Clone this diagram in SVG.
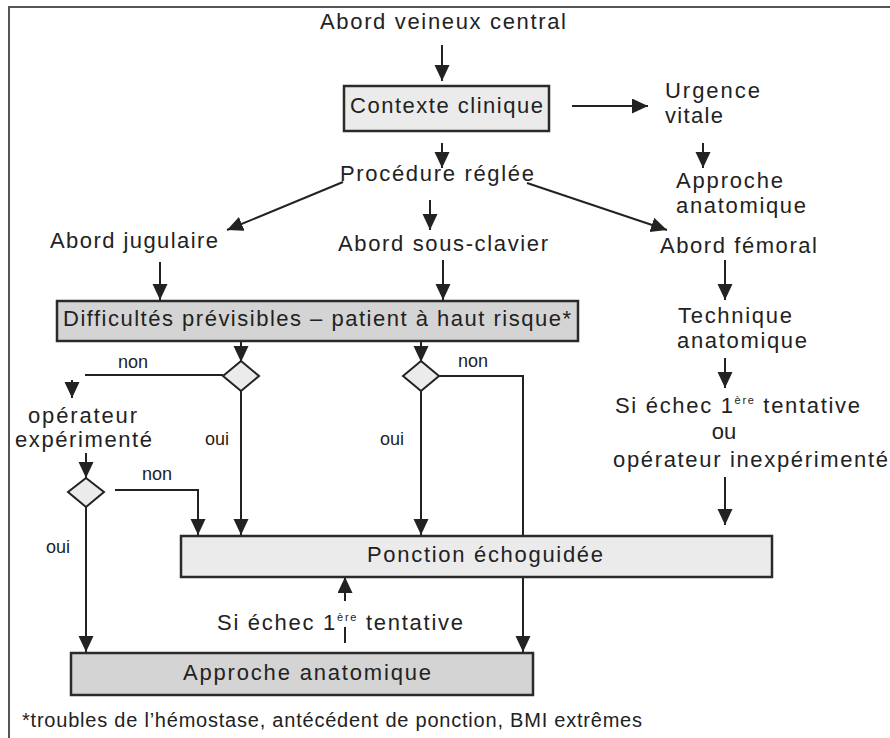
<svg xmlns="http://www.w3.org/2000/svg" width="890" height="738" viewBox="0 0 890 738">
  <defs>
    <marker id="arrow" markerUnits="userSpaceOnUse" markerWidth="16" markerHeight="16" refX="16" refY="7.5" orient="auto">
      <path d="M0,0 L16,7.5 L0,15 z" fill="#222"/>
    </marker>
    <style>
      text { font-family: "Liberation Sans", Arial, sans-serif; font-size: 22px; fill: #222; }
      .small { font-size: 18px; }
      .foot { font-size: 20px; }
      .sup { font-size: 11px; }
      .box { stroke: #2a2a2a; stroke-width: 2.5; }
      .light { fill: #ebebeb; }
      .dark { fill: #d4d4d4; }
      .diamond { fill: #ebebeb; stroke: #222; stroke-width: 2; }
      .conn line, .conn polyline { stroke: #222; stroke-width: 2; fill: none; }
      .arr { marker-end: url(#arrow); }
      .frame { fill: none; stroke: #555; stroke-width: 2; }
    </style>
  </defs>

  <rect width="890" height="738" fill="#fff"/>
  <path class="frame" d="M9,738 V7 H890"/>

  <!-- connectors -->
  <g id="connectors" class="conn">
    <line class="arr" x1="442" y1="45" x2="442" y2="81"/>
    <line class="arr" x1="572" y1="106" x2="648" y2="106"/>
    <line class="arr" x1="442" y1="143" x2="442" y2="168"/>
    <line class="arr" x1="703" y1="143" x2="703" y2="168"/>
    <line class="arr" x1="343" y1="182" x2="227" y2="230"/>
    <line class="arr" x1="430" y1="200" x2="430" y2="230"/>
    <line class="arr" x1="527" y1="183" x2="667" y2="230"/>
    <line class="arr" x1="160" y1="262" x2="160" y2="300"/>
    <line class="arr" x1="443" y1="260" x2="443" y2="300"/>
    <line class="arr" x1="725" y1="260" x2="725" y2="300"/>
    <line class="arr" x1="725" y1="358" x2="725" y2="388"/>
    <line class="arr" x1="725" y1="477" x2="725" y2="525"/>
    <line class="arr" x1="241" y1="341" x2="241" y2="362"/>
    <line class="arr" x1="421" y1="341" x2="421" y2="362"/>
    <line x1="223" y1="375" x2="85" y2="375"/>
    <line class="arr" x1="72" y1="380" x2="72" y2="398"/>
    <line class="arr" x1="86" y1="453" x2="86" y2="478"/>
    <polyline class="arr" points="115,490 198,490 198,535"/>
    <line class="arr" x1="241" y1="390" x2="241" y2="535"/>
    <line class="arr" x1="421" y1="390" x2="421" y2="535"/>
    <polyline class="arr" points="439,376 523,376 523,652"/>
    <line class="arr" x1="86" y1="507" x2="86" y2="652"/>
    <line class="arr" x1="345" y1="601" x2="345" y2="577"/>
    <line x1="345" y1="627" x2="345" y2="643"/>
  </g>

  <g id="title">
    <text x="320" y="29" textLength="246">Abord veineux central</text>
  </g>

  <g id="contexte">
    <rect class="box light" x="344" y="86" width="205" height="45"/>
    <text x="350" y="113" textLength="193">Contexte clinique</text>
  </g>

  <g id="urgence">
    <text x="665" y="98" textLength="95">Urgence</text>
    <text x="665" y="123" textLength="58">vitale</text>
  </g>

  <g id="approche-urgence">
    <text x="676" y="188" textLength="107">Approche</text>
    <text x="676" y="213" textLength="130">anatomique</text>
  </g>

  <g id="procedure">
    <text x="340" y="181" textLength="194">Procédure réglée</text>
  </g>

  <g id="jugulaire">
    <text x="50" y="248" textLength="168">Abord jugulaire</text>
  </g>

  <g id="sous-clavier">
    <text x="338" y="251" textLength="210">Abord sous-clavier</text>
  </g>

  <g id="femoral">
    <text x="660" y="253" textLength="157">Abord fémoral</text>
  </g>

  <g id="difficultes">
    <rect class="box dark" x="57" y="301" width="521" height="40"/>
    <text x="63" y="326" textLength="508">Difficultés prévisibles – patient à haut risque*</text>
  </g>

  <g id="technique">
    <text x="678" y="323" textLength="114">Technique</text>
    <text x="677" y="348" textLength="130">anatomique</text>
  </g>

  <g id="echec-femoral">
    <text x="615" y="413" textLength="245">Si échec 1<tspan class="sup" dy="-9">ère</tspan><tspan dy="9"> tentative</tspan></text>
    <text x="724" y="439" text-anchor="middle">ou</text>
    <text x="613" y="467" textLength="275">opérateur inexpérimenté</text>
  </g>

  <g id="decision-jugulaire">
    <polygon class="diamond" points="241,361 259,376 241,391 223,376"/>
    <text class="small" x="118" y="368">non</text>
    <text class="small" x="205" y="445">oui</text>
  </g>

  <g id="decision-sous-clavier">
    <polygon class="diamond" points="421,361 439,376 421,391 403,376"/>
    <text class="small" x="458" y="367">non</text>
    <text class="small" x="380" y="445">oui</text>
  </g>

  <g id="operateur">
    <text x="28" y="423" textLength="109">opérateur</text>
    <text x="15" y="447" textLength="137">expérimenté</text>
  </g>

  <g id="decision-operateur">
    <polygon class="diamond" points="86,478 104,492 86,507 68,492"/>
    <text class="small" x="142" y="480">non</text>
    <text class="small" x="46" y="553">oui</text>
  </g>

  <g id="ponction">
    <rect class="box light" x="181" y="536" width="591" height="41"/>
    <text x="367" y="562" textLength="236">Ponction échoguidée</text>
  </g>

  <g id="echec-ponction">
    <text x="217" y="630" textLength="246">Si échec 1<tspan class="sup" dy="-9">ère</tspan><tspan dy="9"> tentative</tspan></text>
  </g>

  <g id="approche-anatomique">
    <rect class="box dark" x="71" y="653" width="462" height="42"/>
    <text x="183" y="680" textLength="248">Approche anatomique</text>
  </g>

  <g id="footnote">
    <text class="foot" x="22" y="727" textLength="620">*troubles de l’hémostase, antécédent de ponction, BMI extrêmes</text>
  </g>
</svg>
